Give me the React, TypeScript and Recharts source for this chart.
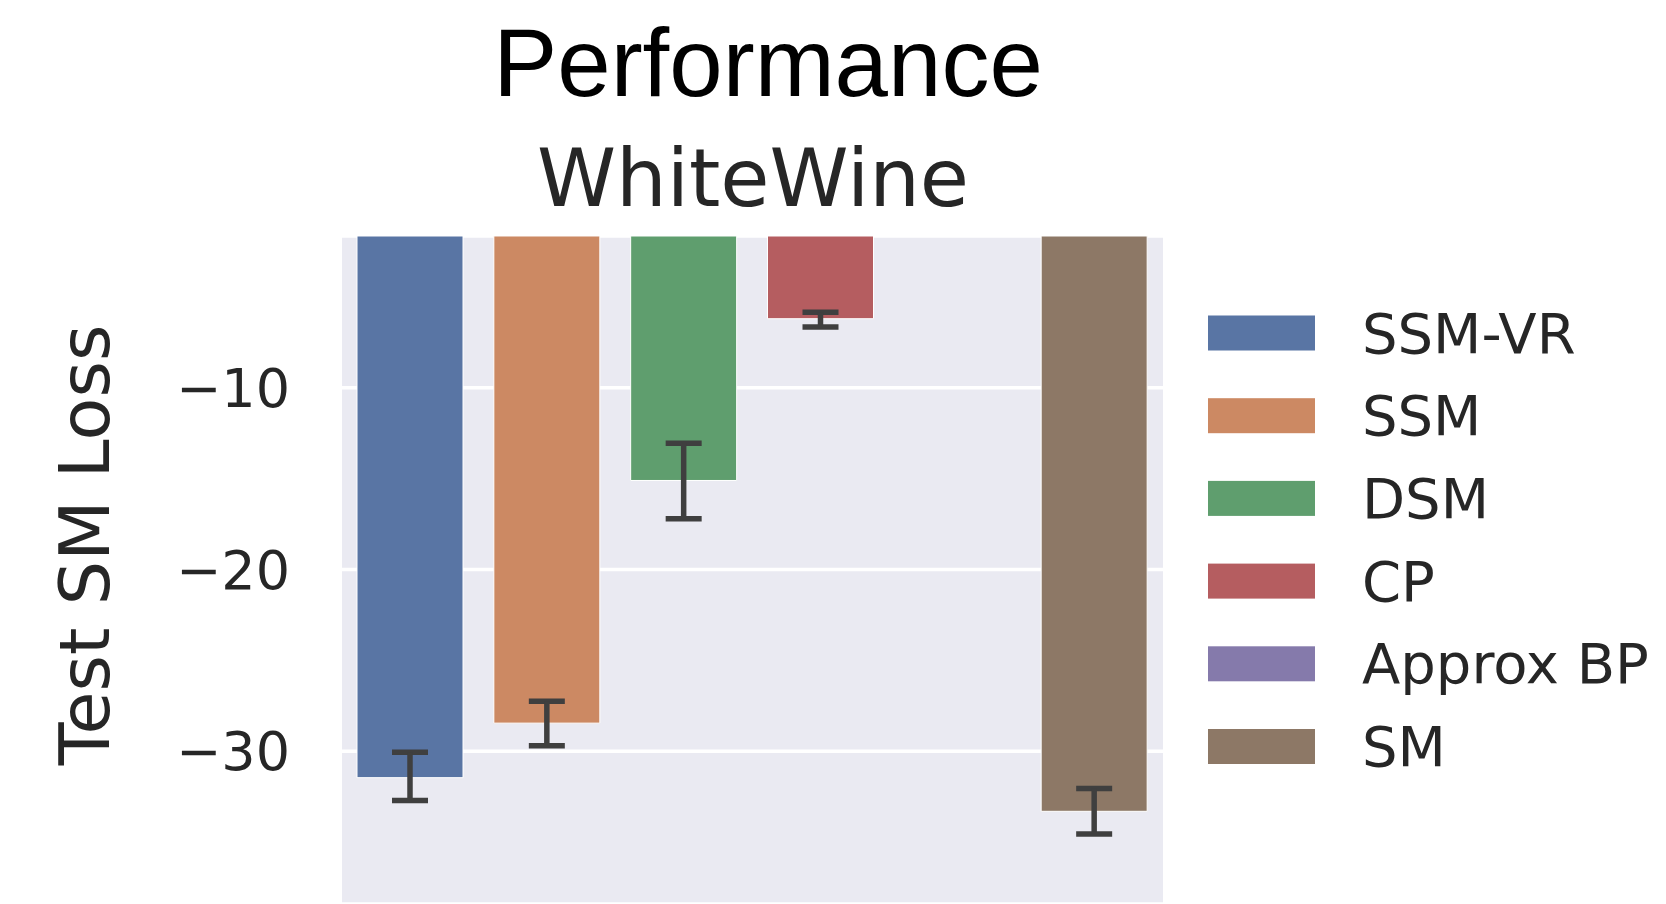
import React from 'react';
import { BarChart, Bar, Cell, XAxis, YAxis, CartesianGrid, ErrorBar, Label } from 'recharts';

// Test score-matching loss per method on the WhiteWine dataset (mean and 95% CI)
const methods = ['SSM-VR', 'SSM', 'DSM', 'CP', 'Approx BP', 'SM'];
const meanLoss: (number | null)[] = [-31.45, -28.45, -15.1, -6.2, null, -33.3];
const ciLower: (number | null)[] = [-32.7, -29.7, -17.2, -6.65, null, -34.55];
const ciUpper: (number | null)[] = [-30.05, -27.25, -13.05, -5.85, null, -32.05];
const palette = ['#5975A4', '#CC8963', '#5F9E6E', '#B55D60', '#857AAB', '#8D7866'];
const yTicks = [-30, -20, -10];
const yDomain: [number, number] = [-38.4, -1.65];

const rows = methods.map((method, i) => {
  const m = meanLoss[i];
  const lo = ciLower[i];
  const hi = ciUpper[i];
  return {
    method,
    loss: m,
    err: m == null || lo == null || hi == null ? null : [m - lo, hi - m],
  };
});

const SANS = "'DejaVu Sans', sans-serif";
const TEXT = '#262626';

const fmt = (v: number) => (v < 0 ? '\u2212' + Math.abs(v) : String(v));

export default function App() {
  return (
    <div style={{ position: 'absolute', left: 0, top: 0, width: 1666, height: 904, background: '#fff' }}>
      <BarChart
        width={1666}
        height={904}
        data={rows}
        margin={{ top: 236, right: 503, bottom: 0, left: 242 }}
        barSize={106}
      >
        <CartesianGrid vertical={false} stroke="#ffffff" strokeWidth={3.5} fill="#EAEAF2" />
        <XAxis dataKey="method" hide />
        <YAxis
          width={100}
          domain={yDomain}
          ticks={yTicks}
          allowDataOverflow
          axisLine={false}
          tickLine={false}
          tickSize={0}
          tickMargin={52}
          tickFormatter={fmt}
          tick={{ fontFamily: SANS, fontSize: 54, fill: TEXT }}
        >
          <Label
            content={() => (
              <text
                x={85}
                y={545}
                transform="rotate(-90 85 545)"
                textAnchor="middle"
                dominantBaseline="central"
                fontFamily={SANS}
                fontSize={70}
                fill={TEXT}
              >
                Test SM Loss
              </text>
            )}
          />
        </YAxis>
        <Bar dataKey="loss" isAnimationActive={false} stroke="#ffffff" strokeWidth={1}>
          {rows.map((r, i) => (
            <Cell key={r.method} fill={palette[i]} />
          ))}
          <ErrorBar dataKey="err" width={18} stroke="#3f3f3f" strokeWidth={5.5} direction="y" isAnimationActive={false} />
        </Bar>
      </BarChart>
      <svg
        width={1666}
        height={904}
        style={{ position: 'absolute', left: 0, top: 0, pointerEvents: 'none' }}
      >
        <text
          x={768}
          y={96}
          textAnchor="middle"
          fontFamily="'Liberation Sans', Arial, sans-serif"
          fontSize={96}
          fill="#000"
        >
          Performance
        </text>
        <text x={753} y={206} textAnchor="middle" fontFamily={SANS} fontSize={80} fill={TEXT}>
          WhiteWine
        </text>
        {methods.map((m, i) => {
          const cy = 333 + i * 82.7;
          return (
            <g key={m}>
              <rect x={1208} y={cy - 17.5} width={107} height={35} fill={palette[i]} />
              <text
                x={1362}
                y={cy}
                dominantBaseline="central"
                fontFamily={SANS}
                fontSize={56}
                fill={TEXT}
              >
                {m}
              </text>
            </g>
          );
        })}
      </svg>
    </div>
  );
}
